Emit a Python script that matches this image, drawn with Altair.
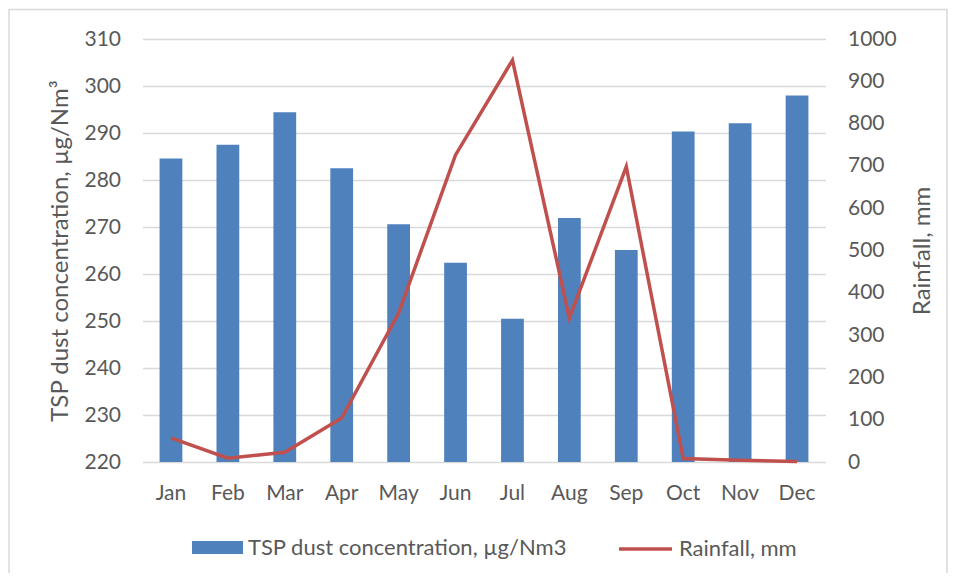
import altair as alt
import pandas as pd

months = ["Jan", "Feb", "Mar", "Apr", "May", "Jun", "Jul", "Aug", "Sep", "Oct", "Nov", "Dec"]
tsp = [284.6, 287.5, 294.4, 282.5, 270.6, 262.4, 250.5, 271.9, 265.1, 290.3, 292.1, 298.0]
rain = [57, 9, 23, 104, 352, 726, 950, 340, 698, 8, 4, 1]
left_ticks = list(range(220, 311, 10))
right_ticks = list(range(0, 1001, 100))
tsp_base = 220

bar_name = "TSP dust concentration, µg/Nm3"
line_name = "Rainfall, mm"

FONT = "Lato"
FS = 21
LFS = 22
TFS = 24
GREY = "#595959"

df = pd.DataFrame({"Month": months, "TSP": tsp, "Rain": rain,
                   "s1": bar_name, "s2": line_name})

x = alt.X("Month:N", sort=months,
          scale=alt.Scale(paddingInner=0.6, paddingOuter=0.3),
          axis=alt.Axis(title=None, labelAngle=0, ticks=False, domain=False,
                        labelPadding=20, labelFont=FONT, labelFontSize=FS,
                        labelColor=GREY))

bars = alt.Chart(df).mark_bar().encode(
    x=x,
    y=alt.Y("TSP:Q",
            scale=alt.Scale(domain=[220, 310], zero=False, nice=False),
            axis=alt.Axis(orient="left", values=left_ticks, grid=True,
                          gridColor="#D9D9D9", gridWidth=1.3, domain=False,
                          ticks=False, labelPadding=22, labelFont=FONT,
                          labelFontSize=FS, labelColor=GREY,
                          title="TSP dust concentration, µg/Nm³",
                          titleFont=FONT, titleFontSize=TFS, titleColor=GREY,
                          titleFontWeight="normal", titleAngle=270,
                          titleBaseline="alphabetic", titleX=-75,
                          titleY=211.5, titleAlign="center")),
    y2=alt.datum(tsp_base),
    color=alt.Color("s1:N",
                    scale=alt.Scale(domain=[bar_name], range=["#4F81BD"]),
                    legend=alt.Legend(title=None, orient="none",
                                      legendX=49.5, legendY=483,
                                      symbolType="M-1,-0.255L1,-0.255L1,0.255L-1,0.255Z",
                                      symbolSize=2601, symbolStrokeWidth=0,
                                      symbolOpacity=1, labelLimit=0,
                                      labelFont=FONT, labelFontSize=LFS,
                                      labelColor=GREY, labelOffset=5)),
)

line = alt.Chart(df).mark_line(strokeWidth=3.5).encode(
    x=x,
    y=alt.Y("Rain:Q",
            scale=alt.Scale(domain=[0, 1000], nice=False),
            axis=alt.Axis(orient="right", values=right_ticks, grid=False,
                          format="d",
                          domain=False, ticks=False, labelPadding=22,
                          labelFont=FONT, labelFontSize=FS, labelColor=GREY,
                          title="Rainfall, mm", titleFont=FONT,
                          titleFontSize=TFS, titleColor=GREY,
                          titleFontWeight="normal", titleAngle=270,
                          titleBaseline="alphabetic", titleX=103.5,
                          titleY=211.5, titleAlign="center")),
    stroke=alt.Stroke("s2:N",
                      scale=alt.Scale(domain=[line_name], range=["#C0504D"]),
                      legend=alt.Legend(title=None, orient="none",
                                        legendX=474.5, legendY=481.5,
                                        symbolType="stroke", symbolSize=2809,
                                        symbolStrokeWidth=3.5, labelLimit=0,
                                        labelFont=FONT, labelFontSize=LFS,
                                        labelColor=GREY, labelOffset=5)),
)

frame = alt.Chart(alt.Data(values=[{"a": 1}])).mark_rect(
    filled=False, stroke="#D9D9D9", strokeWidth=1.5, clip=False
).encode(
    x=alt.value(-133.5), x2=alt.value(804.5),
    y=alt.value(-29.5), y2=alt.value(538),
)

chart = alt.layer(bars, line, frame).resolve_scale(
    y="independent"
).properties(
    width=683, height=423,
    autosize=alt.AutoSizeParams(type="none"),
    padding={"left": 134.5, "top": 31, "right": 123.5, "bottom": 111},
    background="white",
).configure_view(stroke=None)

chart.save("out.html", embed_options={"renderer": "svg", "actions": False})
